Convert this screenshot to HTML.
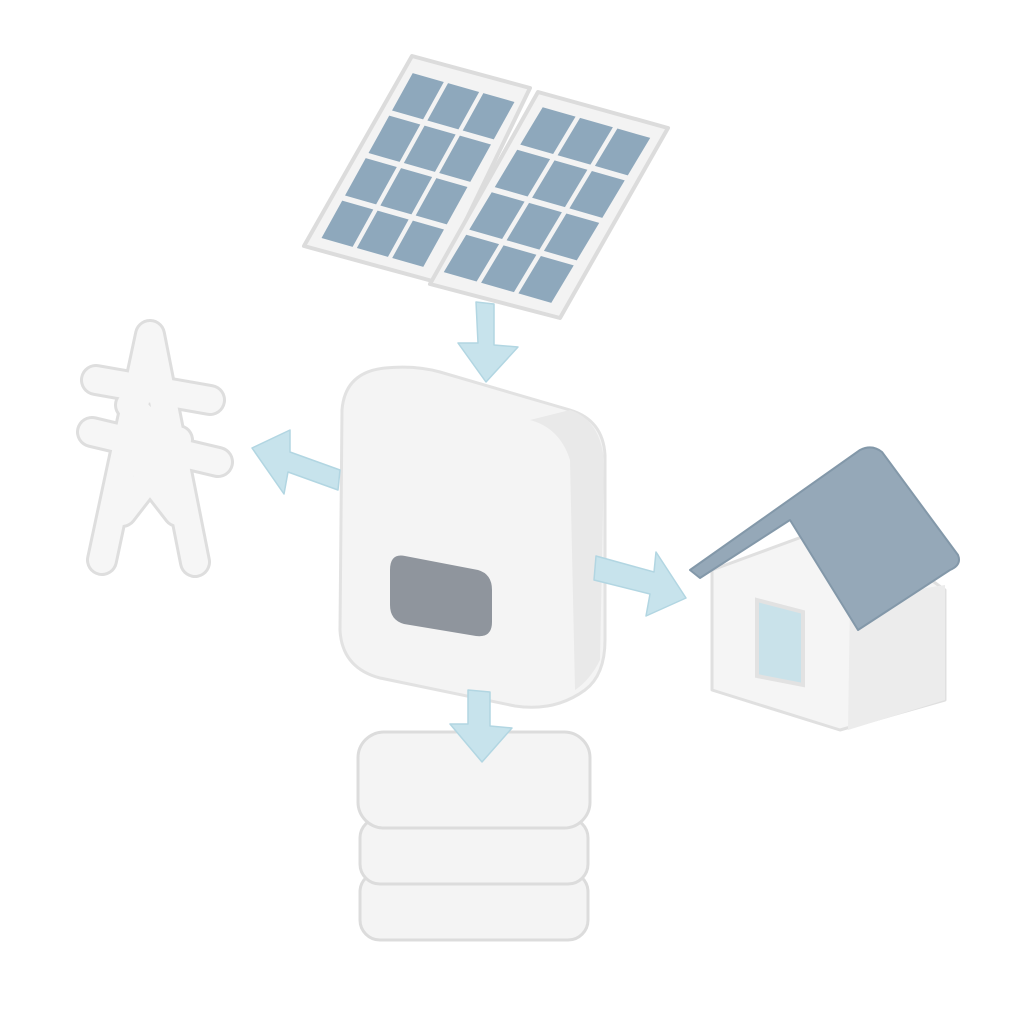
<!DOCTYPE html>
<html><head><meta charset="utf-8"><style>html,body{margin:0;padding:0;background:#fff}svg{display:block}</style></head>
<body>
<svg width="1024" height="1024" viewBox="0 0 1024 1024" xmlns="http://www.w3.org/2000/svg">
<rect width="1024" height="1024" fill="#fff"/>
<!-- solar panels -->
<g stroke-linejoin="round">
<path d="M412,56 L530,88 L436,282 L304,246 Z" fill="#f3f3f3" stroke="#dcdcdc" stroke-width="4"/>
<path d="M538,92 L668,128 L560,318 L430,284 Z" fill="#f3f3f3" stroke="#dcdcdc" stroke-width="4"/>
</g>
<g fill="#8ea8bc" transform="matrix(35.33,10,-23.5,42.5,412,70)">
<rect x="0.06" y="0.06" width="0.88" height="0.88"/><rect x="1.06" y="0.06" width="0.88" height="0.88"/><rect x="2.06" y="0.06" width="0.88" height="0.88"/>
<rect x="0.06" y="1.06" width="0.88" height="0.88"/><rect x="1.06" y="1.06" width="0.88" height="0.88"/><rect x="2.06" y="1.06" width="0.88" height="0.88"/>
<rect x="0.06" y="2.06" width="0.88" height="0.88"/><rect x="1.06" y="2.06" width="0.88" height="0.88"/><rect x="2.06" y="2.06" width="0.88" height="0.88"/>
<rect x="0.06" y="3.06" width="0.88" height="0.88"/><rect x="1.06" y="3.06" width="0.88" height="0.88"/><rect x="2.06" y="3.06" width="0.88" height="0.88"/>
</g>
<g fill="#8ea8bc" transform="matrix(37.33,10.67,-25.5,42.5,542,104)">
<rect x="0.06" y="0.06" width="0.88" height="0.88"/><rect x="1.06" y="0.06" width="0.88" height="0.88"/><rect x="2.06" y="0.06" width="0.88" height="0.88"/>
<rect x="0.06" y="1.06" width="0.88" height="0.88"/><rect x="1.06" y="1.06" width="0.88" height="0.88"/><rect x="2.06" y="1.06" width="0.88" height="0.88"/>
<rect x="0.06" y="2.06" width="0.88" height="0.88"/><rect x="1.06" y="2.06" width="0.88" height="0.88"/><rect x="2.06" y="2.06" width="0.88" height="0.88"/>
<rect x="0.06" y="3.06" width="0.88" height="0.88"/><rect x="1.06" y="3.06" width="0.88" height="0.88"/><rect x="2.06" y="3.06" width="0.88" height="0.88"/>
</g>
<!-- inverter -->
<path d="M385,368 Q345,372 342,410 L340,630 Q342,668 380,678 L515,706 Q555,712 585,690 Q605,675 605,640 L605,455 Q603,420 570,410 L440,372 Q415,365 385,368 Z" fill="#f4f4f4" stroke="#e2e2e2" stroke-width="3"/>
<path d="M530,420 Q560,428 570,460 L575,690 Q590,680 600,660 L604,460 Q600,420 570,410 Z" fill="#e9e9e9"/>
<path d="M405,556 L478,570 Q492,574 492,590 L492,622 Q492,638 476,636 L404,624 Q390,620 390,605 L390,570 Q390,553 405,556 Z" fill="#8f959d"/>
<!-- tower -->
<g fill="none" stroke-linecap="round" stroke-linejoin="round">
<g stroke="#dedede" stroke-width="32">
<path d="M150,335 L102,560 M150,335 L195,562 M96,380 L210,400 M92,432 L218,462 M122,440 L178,512 M178,440 L122,512 M130,405 L172,445"/>
</g>
<g stroke="#f6f6f6" stroke-width="26">
<path d="M150,335 L102,560 M150,335 L195,562 M96,380 L210,400 M92,432 L218,462 M122,440 L178,512 M178,440 L122,512 M130,405 L172,445"/>
</g>
</g>
<!-- house -->
<path d="M712,570 L848,520 L945,590 L945,700 L840,730 L712,690 Z" fill="#f5f5f5" stroke="#e0e0e0" stroke-width="3" stroke-linejoin="round"/>
<path d="M850,600 L945,585 L945,700 L848,730 Z" fill="#ececec"/>
<path d="M690,570 L860,450 Q872,444 882,452 L958,555 Q962,565 950,570 L858,630 L790,520 L700,578 Z" fill="#95a8b8" stroke="#8398a9" stroke-width="2" stroke-linejoin="round"/>
<path d="M757,600 L803,612 L803,685 L757,676 Z" fill="#c9e2ea" stroke="#e2e2e2" stroke-width="4"/>
<!-- battery -->
<g stroke="#dcdcdc" stroke-width="3" fill="#f4f4f4">
<rect x="360" y="872" width="228" height="68" rx="20"/>
<rect x="360" y="818" width="228" height="66" rx="20"/>
<rect x="358" y="732" width="232" height="96" rx="26"/>
</g>
<!-- arrows -->
<g fill="#c7e3ec" stroke="#b2d6e2" stroke-width="1.5" stroke-linejoin="round">
<path d="M476,302 L494,304 L494,345 L518,347 L486,382 L458,343 L478,343 Z"/>
<path d="M340,470 L338,490 L288,472 L284,494 L252,448 L290,430 L290,452 Z"/>
<path d="M596,556 L594,580 L650,594 L646,616 L686,598 L656,552 L654,572 Z"/>
<path d="M468,690 L490,692 L490,726 L512,728 L482,762 L450,724 L468,724 Z"/>
</g>
</svg>
</body></html>
